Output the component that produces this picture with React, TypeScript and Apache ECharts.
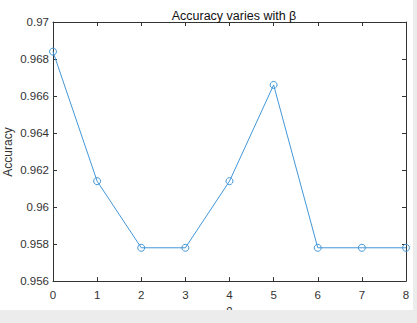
import React, { useEffect, useRef } from "react";
import * as echarts from "echarts";

const betaValues = [0, 1, 2, 3, 4, 5, 6, 7, 8];
const accuracyValues = [0.9684, 0.9614, 0.9578, 0.9578, 0.9614, 0.9666, 0.9578, 0.9578, 0.9578];
const titleText = "Accuracy varies with β";
const yAxisName = "Accuracy";
const xAxisName = "β";

export default function App() {
  const ref = useRef<HTMLDivElement>(null);
  useEffect(() => {
    if (!ref.current) return;
    const chart = echarts.init(ref.current, undefined, { renderer: "svg" });
    const axisColor = "#333333";
    const font = "Liberation Sans, Arial, sans-serif";
    const fmt = (v: number) => parseFloat(v.toFixed(3)).toString();
    const data = betaValues.map((b, i) => [b, accuracyValues[i]]);
    chart.setOption({
      animation: false,
      backgroundColor: "#ffffff",
      title: {
        text: titleText,
        left: 229,
        textAlign: "center",
        top: 4,
        textStyle: { fontSize: 12.5, fontWeight: "normal", color: "#111", fontFamily: font },
      },
      grid: { left: 53, right: 11, top: 22, bottom: 35, containLabel: false },
      xAxis: [
        {
          type: "value",
          min: 0,
          max: 8,
          interval: 1,
          name: xAxisName,
          nameLocation: "middle",
          nameGap: 24,
          nameTextStyle: { fontSize: 12, color: axisColor, fontFamily: font },
          axisLine: { show: true, lineStyle: { color: axisColor, width: 1 } },
          axisTick: { show: true, inside: true, length: 4, lineStyle: { color: axisColor } },
          axisLabel: { fontSize: 11.5, color: axisColor, fontFamily: font, margin: 8 },
          splitLine: { show: false },
        },
        {
          type: "value",
          position: "top",
          min: 0,
          max: 8,
          interval: 1,
          axisLine: { show: true, onZero: false, lineStyle: { color: axisColor, width: 1 } },
          axisTick: { show: true, inside: true, length: 4, lineStyle: { color: axisColor } },
          axisLabel: { show: false },
          splitLine: { show: false },
        },
      ],
      yAxis: [
        {
          type: "value",
          min: 0.956,
          max: 0.97,
          interval: 0.002,
          axisLine: { show: true, lineStyle: { color: axisColor, width: 1 } },
          axisTick: { show: true, inside: true, length: 4, lineStyle: { color: axisColor } },
          axisLabel: { fontSize: 11.5, color: axisColor, fontFamily: font, margin: 4, formatter: fmt },
          splitLine: { show: false },
        },
        {
          type: "value",
          position: "right",
          min: 0.956,
          max: 0.97,
          interval: 0.002,
          axisLine: { show: true, onZero: false, lineStyle: { color: axisColor, width: 1 } },
          axisTick: { show: true, inside: true, length: 4, lineStyle: { color: axisColor } },
          axisLabel: { show: false },
          splitLine: { show: false },
        },
      ],
      series: [
        {
          type: "line",
          data,
          xAxisIndex: 0,
          yAxisIndex: 0,
          symbol: "circle",
          symbolSize: 7,
          lineStyle: { color: "#4397d8", width: 1 },
          itemStyle: { color: "rgba(255,255,255,0)", borderColor: "#4397d8", borderWidth: 1 },
          emphasis: { disabled: true },
          z: 3,
        },
      ],
      graphic: [
        {
          type: "text",
          x: 8,
          y: 152,
          rotation: Math.PI / 2,
          style: {
            text: yAxisName,
            fontSize: 12,
            fill: axisColor,
            fontFamily: font,
            align: "center",
            verticalAlign: "middle",
          },
          z: 50,
        },
        { type: "rect", left: 0, top: 310, shape: { width: 417, height: 13 }, style: { fill: "#ececec" }, z: 100 },
        { type: "rect", left: 413, top: 0, shape: { width: 4, height: 323 }, style: { fill: "#ececec" }, z: 100 },
      ],
    });
    return () => chart.dispose();
  }, []);
  return (
    <div
      ref={ref}
      style={{ position: "fixed", left: 0, top: 0, width: 417, height: 323 }}
    />
  );
}
